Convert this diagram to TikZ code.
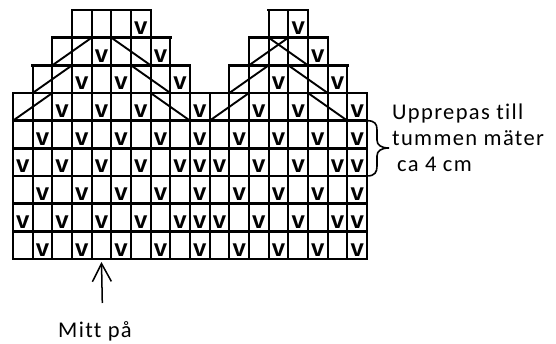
\documentclass[tikz,border=0pt]{standalone}
\usepackage{fontspec}
\setmainfont{Carlito}
\newfontfamily\vfont{Liberation Sans}
\newfontfamily\labelfont[LetterSpace=6,Ligatures=NoCommon]{Carlito}
\usetikzlibrary{arrows.meta}
\begin{document}
\begin{tikzpicture}[x=1pt,y=1pt,
  cellline/.style={line width=2pt},
  rowline/.style={line width=2.6pt, line cap=rect},
  diag/.style={line width=1.9pt},
  vmark/.style={font=\vfont\bfseries\fontsize{24}{24}\selectfont, inner sep=0pt, anchor=base, yshift=3pt},
  lbl/.style={font=\labelfont\fontsize{22.5}{26}\selectfont, inner sep=0pt, anchor=base west},
  bracestyle/.style={line width=1.6pt},
  arrowstyle/.style={line width=1.5pt, -{Straight Barb[length=18pt,width=19pt]}},
]
\useasboundingbox (0,0) rectangle (556,343);
\begin{scope}[shift={(13,84)}, x=19.667pt, y=27.667pt]
  % vertical cell lines, row by row
  \foreach \r/\a/\b in {1/0/18,2/0/18,3/0/18,4/0/18,5/0/18,6/0/18,7/1/9,7/11/17,8/2/8,8/12/16,9/3/7,9/13/15}{
    \foreach \c in {\a,...,\b}{
      \draw[cellline] (\c,\r-1) -- (\c,\r);
    }
  }
  % horizontal row lines
  \foreach \y/\a/\b in {0/0/18,1/0/18,2/0/18,3/0/18,4/0/18,5/0/18,6/0/18,7/1/9,7/11/17,8/2/8,8/12/16,9/3/7,9/13/15}{
    \draw[rowline] (\a,\y) -- (\b,\y);
  }
  % diagonal lines
  \draw[diag] (0,5) -- (2,6);
  \draw[diag] (1,6) -- (3,7);
  \draw[diag] (2,7) -- (4,8);
  \draw[diag] (5,8) -- (7,7);
  \draw[diag] (6,7) -- (8,6);
  \draw[diag] (7,6) -- (9,5);
  \draw[diag] (10,5) -- (12,6);
  \draw[diag] (11,6) -- (13,7);
  \draw[diag] (12,7) -- (14,8);
  \draw[diag] (13,8) -- (15,7);
  \draw[diag] (14,7) -- (16,6);
  \draw[diag] (15,6) -- (17,5);
  % v marks
  \foreach \r in {1,3,5}{
    \foreach \c in {1,3,...,17}{
      \node[vmark] (v\r-\c) at (\c+0.5,\r-1) {v};
    }
  }
  \foreach \r in {2,4}{
    \foreach \c in {0,2,4,6,8,9,10,12,14,16,17}{
      \node[vmark] (v\r-\c) at (\c+0.5,\r-1) {v};
    }
  }
  \foreach \c in {2,4,6,9,12,14,17}{\node[vmark] (v6-\c) at (\c+0.5,5) {v};}
  \foreach \c in {3,5,8,13,16}{\node[vmark] (v7-\c) at (\c+0.5,6) {v};}
  \foreach \c in {4,7,15}{\node[vmark] (v8-\c) at (\c+0.5,7) {v};}
  \foreach \c in {6,14}{\node[vmark] (v9-\c) at (\c+0.5,8) {v};}
  % named points
  \coordinate (tip) at ([yshift=-3pt]4.5,0);
  \coordinate (bt) at (18,5);
  \coordinate (bb) at (18,3);
\end{scope}
% brace
\draw[bracestyle] (bt) .. controls (375,222.3) and (377,219) .. (377,213) -- (377,203)
  .. controls (377,198) and (381,195) .. (389,195)
  .. controls (381,195) and (377,192) .. (377,187) -- (377,177)
  .. controls (377,171) and (375,167) .. (bb);
% labels
\node[lbl] (rep1) at (392,223.7) {Upprepas till};
\node[lbl] (rep2) at (392,197) {tummen mäter};
\node[lbl] (rep3) at (397,171.3) {ca 4 cm};
\node[lbl] (mitt) at (58,6) {Mitt på};
% arrow
\coordinate (tail) at (102.3,40);
\draw[arrowstyle] (tail) -- (tip);
\end{tikzpicture}
\end{document}
